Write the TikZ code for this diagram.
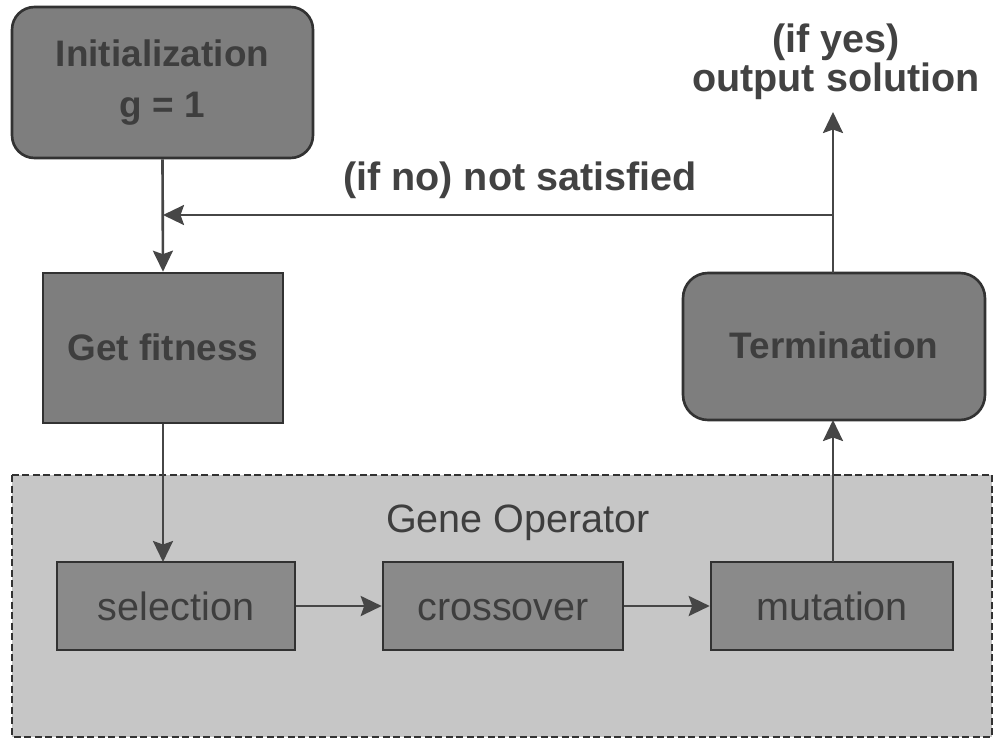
\documentclass[tikz,border=0pt]{standalone}
\usepackage{fontspec}
\setmainfont{Liberation Sans}
\usetikzlibrary{arrows.meta}
\definecolor{boxfill}{RGB}{126,126,126}
\definecolor{innerfill}{RGB}{138,138,138}
\definecolor{regionfill}{RGB}{198,198,198}
\definecolor{boxtext}{RGB}{62,62,62}
\definecolor{edgecol}{RGB}{50,50,50}
\definecolor{arrowcol}{RGB}{70,70,70}
\definecolor{labelcol}{RGB}{66,66,66}
\tikzset{
  topbox/.style={draw=edgecol, line width=1.5pt, fill=boxfill, text=boxtext,
    font=\fontsize{21}{29.5}\selectfont\bfseries, align=center, inner sep=0pt},
  roundbox/.style={topbox, rounded corners=0.45cm},
  oneline/.style={text height=17pt, text depth=2.8pt},
  innerbox/.style={draw=edgecol, line width=1.5pt, fill=innerfill, text=boxtext,
    font=\fontsize{22.5}{27}\selectfont, inner sep=0pt,
    text height=19pt, text depth=3pt, minimum height=1.76cm},
  arr/.style={draw=arrowcol, fill=arrowcol, line width=1.5pt,
    -{Stealth[length=0.42cm, width=0.4cm, inset=0.07cm]}},
  biglabel/.style={text=labelcol, font=\fontsize{22.5}{22}\selectfont\bfseries,
    align=center, inner sep=0pt},
  regionlabel/.style={text=boxtext, font=\fontsize{22.5}{27}\selectfont, inner sep=0pt},
  region/.style={draw=edgecol, line width=1.2pt, dash pattern=on 4pt off 2pt, fill=regionfill}
}
\begin{document}
\begin{tikzpicture}[x=0.02cm, y=-0.02cm]
\useasboundingbox (0,0) rectangle (995,741);
\fill[white] (0,0) rectangle (995,741);
% Gene operator region
\path[region] (12,475) rectangle (992,737);
\node[regionlabel] (genelabel) at (518,523) {Gene Operator};
% main boxes
\node[roundbox, minimum width=6.02cm, minimum height=3.02cm] (init) at (162.5,82.5)
  {Initialization\\g = 1};
\node[topbox, oneline, minimum width=4.8cm, minimum height=3.0cm] (fit) at (163,348) {Get fitness};
\node[roundbox, oneline, rounded corners=0.5cm, minimum width=6.04cm, minimum height=2.94cm] (term) at (834,346.5) {Termination};
\node[innerbox, minimum width=4.76cm] (sel) at (176,606) {selection};
\node[innerbox, minimum width=4.8cm] (cross) at (503,606) {crossover};
\node[innerbox, minimum width=4.84cm] (mut) at (832,606) {mutation};
% labels
\node[biglabel] (nolabel) at (520,180) {(if no) not satisfied};
\node[biglabel] (yeslabel) at (836,62) {(if yes)\\output solution};
% connector points
\coordinate (jl) at (163,215);
\coordinate (jr) at (833,215);
\coordinate (out) at (833,112);
\coordinate (termtop) at (833,273);
\coordinate (termbot) at (833,420);
\coordinate (muttop) at (833,562);
\coordinate (seltop) at (163,562);
% connectors
\draw[arr] (init.south) -- (fit.north);
\draw[arr] (jr) -- (jl);
\draw[arr] (termtop) -- (out);
\draw[arr] (fit.south) -- (seltop);
\draw[arr] (muttop) -- (termbot);
\draw[arr] (sel.east) -- (cross.west);
\draw[arr] (cross.east) -- (mut.west);
\end{tikzpicture}
\end{document}
